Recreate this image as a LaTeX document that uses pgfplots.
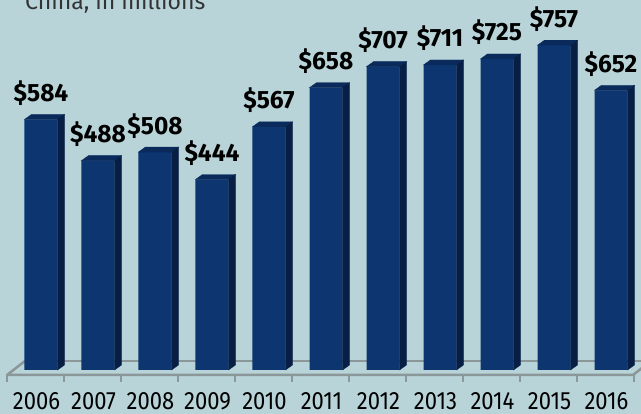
\documentclass[border=0pt]{standalone}
\usepackage{fontspec}
\setmainfont{Fira Sans}[FakeStretch=0.88]
\newfontfamily\valfont{Fira Sans}[FakeStretch=0.98]
\newfontfamily\titlefont{Fira Sans}
\usepackage{pgfplots}
\pgfplotsset{compat=1.18}
\definecolor{bg}{HTML}{B8D4D8}
\definecolor{front}{HTML}{0D3671}
\definecolor{side}{HTML}{071F45}
\definecolor{topf}{HTML}{0A2A5C}
\definecolor{floorc}{HTML}{8C9799}
\definecolor{titlec}{HTML}{333333}
\pgfdeclareplotmark{nothing}{}

\begin{document}
\begin{tikzpicture}[x=1pt,y=1pt]
\useasboundingbox (0,0) rectangle (641,414);
\clip (0,0) rectangle (641,414);
\fill[bg] (0,0) rectangle (641,414);
\node[anchor=base west, text=titlec, inner sep=0pt,
      font=\titlefont\fontsize{23}{23}\selectfont] at (25,404) {China, in millions};
\begin{axis}[
    at={(0pt,0pt)}, anchor=south west,
    x=57pt, y=0.429pt,
    xmin=-0.7193, xmax=10.5263,
    ymin=-102.56, ymax=862.47,
    enlargelimits=false,
    axis line style={draw=none},
    tick style={draw=none},
    ytick=\empty,
    xtick={-0.079,0.921,1.921,2.921,3.921,4.921,5.921,6.921,7.921,8.921,9.921},
    xticklabels={2006,2007,2008,2009,2010,2011,2012,2013,2014,2015,2016},
    xticklabel style={anchor=base, yshift=4.5pt, text=black,
                      font=\fontsize{25}{25}\selectfont},
    /pgf/number format/assume math mode=true,
    clip=false,
]
% floor
\draw[floorc, line width=2.5pt, line join=round]
    (axis cs:-0.281,21) -- (axis cs:10.7,21);
\draw[floorc, line width=2.5pt, line join=round]
    (axis cs:-0.281,21) -- (axis cs:-0.5965,-11.66) -- (axis cs:10.386,-11.66) -- (axis cs:10.70,21);
\pgfplotsinvokeforeach{0,...,11}{
  \draw[floorc, line width=2.5pt] (axis cs:{-0.5965+#1},-11.66) -- (axis cs:{-0.5965+#1},-27.97);
}
% side and top faces
\addplot[
    scatter, only marks, mark=nothing,
    visualization depends on={rawy \as \val},
    scatter/@pre marker code/.code={
        \pgfmathsetlengthmacro\h{\val*0.429pt}
        \fill[topf] (-16.5pt,0pt) -- (16.5pt,0pt) -- (23.5pt,5pt) -- (-9.5pt,5pt) -- cycle;
        \fill[side] (16.5pt,0pt) -- (23.5pt,5pt) -- (23.5pt,{5pt-\h}) -- (16.5pt,-\h) -- cycle;
    },
    scatter/@post marker code/.code={},
] coordinates {
(0,584) (1,488) (2,508) (3,444) (4,567) (5,658)
(6,707) (7,711) (8,725) (9,757) (10,652)
};
% front faces with value labels
\addplot[
    ybar, bar width=0.579, bar shift=0pt, fill=front, draw=none,
    nodes near coords={\$\pgfmathprintnumber{\pgfplotspointmeta}},
    every node near coord/.append style={anchor=base, yshift=18pt, text=black,
        inner sep=0pt, font=\valfont\bfseries\fontsize{25}{25}\selectfont},
] coordinates {
(0,584) (1,488) (2,508) (3,444) (4,567) (5,658)
(6,707) (7,711) (8,725) (9,757) (10,652)
};
\end{axis}
\end{tikzpicture}
\end{document}
